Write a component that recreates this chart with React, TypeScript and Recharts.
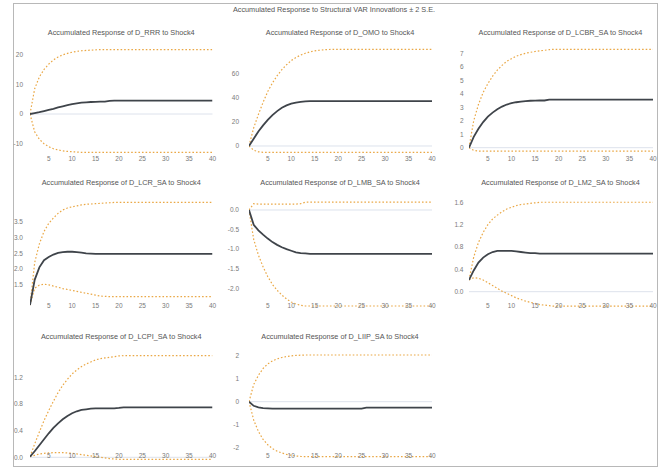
import React from 'react';
import { LineChart, Line, XAxis, YAxis, ReferenceLine } from 'recharts';

const PERIODS = [1,2,3,4,5,6,7,8,9,10,11,12,13,14,15,16,17,18,19,20,21,22,23,24,25,26,27,28,29,30,31,32,33,34,35,36,37,38,39,40];
const X_TICKS = [5, 10, 15, 20, 25, 30, 35, 40];
const MAIN_TITLE = 'Accumulated Response to Structural VAR Innovations \u00b1 2 S.E.';

// D_RRR
const RRR_RESP = [0,0.3,0.6,1.0,1.4,1.75,2.2,2.6,3.0,3.35, 3.6,3.8,3.95,4.05,4.1,4.15,4.2,4.45,4.5,4.5, 4.5,4.5,4.5,4.5,4.5,4.5,4.5,4.5,4.5,4.5, 4.5,4.5,4.5,4.5,4.5,4.5,4.5,4.5,4.5,4.5];
const RRR_UPPER = [0,8.5,12.5,15,16.8,18.2,19.2,19.9,20.4,20.8, 21.1,21.3,21.4,21.5,21.6,21.7,21.7,21.7,21.7,21.7, 21.7,21.7,21.7,21.7,21.7,21.7,21.7,21.7,21.7,21.7, 21.7,21.7,21.7,21.7,21.7,21.7,21.7,21.7,21.7,21.7];
const RRR_LOWER = [0,-6,-8.5,-10,-11,-11.7,-12.1,-12.4,-12.6,-12.7, -12.8,-12.9,-12.9,-12.9,-12.9,-12.9,-12.9,-12.9,-12.9,-12.9, -12.9,-12.9,-12.9,-12.9,-12.9,-12.9,-12.9,-12.9,-12.9,-12.9, -12.9,-12.9,-12.9,-12.9,-12.9,-12.9,-12.9,-12.9,-12.9,-12.9];
const RRR_TICKS = [-10, 0, 10, 20];

// D_OMO
const OMO_RESP = [0,6,12,17,21.5,25.5,28.8,31.5,33.5,34.9, 35.8,36.4,36.8,37.0,37.1,37.1,37.1,37.1,37.1,37.1, 37.1,37.1,37.1,37.1,37.1,37.1,37.1,37.1,37.1,37.1, 37.1,37.1,37.1,37.1,37.1,37.1,37.1,37.1,37.1,37.1];
const OMO_UPPER = [0,15,26,36,45,52,58,63,67,70.5, 73,75,76.5,77.7,78.5,79,79.4,79.6,79.8,79.8, 79.8,79.8,79.8,79.8,79.8,79.8,79.8,79.8,79.8,79.8, 79.8,79.8,79.8,79.8,79.8,79.8,79.8,79.8,79.8,79.8];
const OMO_LOWER = [0,-3.5,-4.8,-5.2,-5.3,-5.3,-5.3,-5.3,-5.3,-5.3, -5.3,-5.3,-5.3,-5.3,-5.3,-5.3,-5.3,-5.3,-5.3,-5.3, -5.3,-5.3,-5.3,-5.3,-5.3,-5.3,-5.3,-5.3,-5.3,-5.3, -5.3,-5.3,-5.3,-5.3,-5.3,-5.3,-5.3,-5.3,-5.3,-5.3];
const OMO_TICKS = [0, 20, 40, 60];

// D_LCBR_SA
const LCBR_RESP = [0,0.8,1.4,1.9,2.3,2.6,2.85,3.05,3.2,3.3, 3.37,3.42,3.46,3.48,3.49,3.5,3.5,3.56,3.57,3.57, 3.57,3.57,3.57,3.57,3.57,3.57,3.57,3.57,3.57,3.57, 3.57,3.57,3.57,3.57,3.57,3.57,3.57,3.57,3.57,3.57];
const LCBR_UPPER = [0,2.0,3.2,4.1,4.75,5.3,5.75,6.1,6.4,6.6, 6.78,6.9,7.0,7.07,7.13,7.18,7.22,7.27,7.29,7.29, 7.29,7.29,7.29,7.29,7.29,7.29,7.29,7.29,7.29,7.29, 7.29,7.29,7.29,7.29,7.29,7.29,7.29,7.29,7.29,7.29];
const LCBR_LOWER = [0,-0.2,-0.25,-0.26,-0.26,-0.26,-0.26,-0.26,-0.26,-0.26, -0.26,-0.26,-0.26,-0.26,-0.26,-0.26,-0.26,-0.26,-0.26,-0.26, -0.26,-0.26,-0.26,-0.26,-0.26,-0.26,-0.26,-0.26,-0.26,-0.26, -0.26,-0.26,-0.26,-0.26,-0.26,-0.26,-0.26,-0.26,-0.26,-0.26];
const LCBR_TICKS = [0, 1, 2, 3, 4, 5, 6, 7];

// D_LCR_SA
const LCR_RESP = [0.84,1.65,2.05,2.28,2.38,2.46,2.51,2.54,2.55,2.55, 2.54,2.52,2.5,2.49,2.48,2.48,2.48,2.48,2.48,2.48, 2.48,2.48,2.48,2.48,2.48,2.48,2.48,2.48,2.48,2.48, 2.48,2.48,2.48,2.48,2.48,2.48,2.48,2.48,2.48,2.48];
const LCR_UPPER = [0.84,2.2,2.8,3.2,3.46,3.63,3.78,3.89,3.95,3.99, 4.02,4.05,4.07,4.08,4.09,4.1,4.11,4.12,4.13,4.13, 4.13,4.13,4.13,4.13,4.13,4.13,4.13,4.13,4.13,4.13, 4.13,4.13,4.13,4.13,4.13,4.13,4.13,4.13,4.13,4.13];
const LCR_LOWER = [0.84,1.38,1.48,1.51,1.49,1.45,1.41,1.37,1.34,1.31, 1.28,1.25,1.22,1.19,1.16,1.13,1.12,1.11,1.11,1.11, 1.11,1.11,1.11,1.11,1.11,1.11,1.11,1.11,1.11,1.11, 1.11,1.11,1.11,1.11,1.11,1.11,1.11,1.11,1.11,1.11];
const LCR_TICKS = [1.5, 2.0, 2.5, 3.0, 3.5];

// D_LMB_SA
const LMB_RESP = [0,-0.38,-0.52,-0.63,-0.73,-0.82,-0.89,-0.95,-1.0,-1.04, -1.08,-1.1,-1.11,-1.12,-1.12,-1.12,-1.12,-1.12,-1.12,-1.12, -1.12,-1.12,-1.12,-1.12,-1.12,-1.12,-1.12,-1.12,-1.12,-1.12, -1.12,-1.12,-1.12,-1.12,-1.12,-1.12,-1.12,-1.12,-1.12,-1.12];
const LMB_UPPER = [0,0.16,0.15,0.15,0.15,0.15,0.15,0.15,0.15,0.15, 0.15,0.16,0.2,0.2,0.2,0.2,0.2,0.2,0.2,0.2, 0.2,0.2,0.2,0.2,0.2,0.2,0.2,0.2,0.2,0.2, 0.2,0.2,0.2,0.2,0.2,0.2,0.2,0.2,0.2,0.2];
const LMB_LOWER = [0,-0.75,-1.15,-1.45,-1.7,-1.9,-2.05,-2.17,-2.27,-2.35, -2.4,-2.43,-2.45,-2.45,-2.45,-2.45,-2.45,-2.45,-2.45,-2.45, -2.45,-2.45,-2.45,-2.45,-2.45,-2.45,-2.45,-2.45,-2.45,-2.45, -2.45,-2.45,-2.45,-2.45,-2.45,-2.45,-2.45,-2.45,-2.45,-2.45];
const LMB_TICKS = [-2.0, -1.5, -1.0, -0.5, 0.0];

// D_LM2_SA
const LM2_RESP = [0.21,0.38,0.52,0.61,0.67,0.71,0.73,0.73,0.73,0.73, 0.72,0.71,0.7,0.69,0.69,0.68,0.68,0.68,0.68,0.68, 0.68,0.68,0.68,0.68,0.68,0.68,0.68,0.68,0.68,0.68, 0.68,0.68,0.68,0.68,0.68,0.68,0.68,0.68,0.68,0.68];
const LM2_UPPER = [0.21,0.62,0.88,1.06,1.2,1.3,1.37,1.43,1.48,1.51, 1.54,1.56,1.57,1.58,1.59,1.6,1.6,1.6,1.6,1.6, 1.6,1.6,1.6,1.6,1.6,1.6,1.6,1.6,1.6,1.6, 1.6,1.6,1.6,1.6,1.6,1.6,1.6,1.6,1.6,1.6];
const LM2_LOWER = [0.21,0.25,0.24,0.21,0.16,0.11,0.06,0.01,-0.03,-0.07, -0.11,-0.14,-0.17,-0.19,-0.21,-0.23,-0.24,-0.25,-0.26,-0.26, -0.26,-0.26,-0.26,-0.26,-0.26,-0.26,-0.26,-0.26,-0.26,-0.26, -0.26,-0.26,-0.26,-0.26,-0.26,-0.26,-0.26,-0.26,-0.26,-0.26];
const LM2_TICKS = [0.0, 0.4, 0.8, 1.2, 1.6];

// D_LCPI_SA
const LCPI_RESP = [0.01,0.09,0.18,0.27,0.36,0.44,0.51,0.57,0.62,0.66, 0.69,0.71,0.72,0.73,0.735,0.735,0.735,0.735,0.735,0.74, 0.75,0.75,0.75,0.75,0.75,0.75,0.75,0.75,0.75,0.75, 0.75,0.75,0.75,0.75,0.75,0.75,0.75,0.75,0.75,0.75];
const LCPI_UPPER = [0.01,0.2,0.38,0.55,0.7,0.84,0.97,1.08,1.17,1.25, 1.31,1.36,1.4,1.43,1.46,1.48,1.49,1.5,1.51,1.52, 1.525,1.525,1.525,1.525,1.525,1.525,1.525,1.525,1.525,1.525, 1.525,1.525,1.525,1.525,1.525,1.525,1.525,1.525,1.525,1.525];
const LCPI_LOWER = [0.01,0.03,0.05,0.06,0.065,0.07,0.07,0.07,0.065,0.06, 0.05,0.04,0.03,0.02,0.01,0,-0.01,-0.02,-0.025,-0.03, -0.03,-0.03,-0.03,-0.03,-0.03,-0.03,-0.03,-0.03,-0.03,-0.03, -0.03,-0.03,-0.03,-0.03,-0.03,-0.03,-0.03,-0.03,-0.03,-0.03];
const LCPI_TICKS = [0.0, 0.4, 0.8, 1.2];

// D_LIIP_SA
const LIIP_RESP = [0,-0.18,-0.25,-0.28,-0.29,-0.3,-0.3,-0.3,-0.3,-0.3, -0.3,-0.3,-0.3,-0.3,-0.3,-0.3,-0.3,-0.3,-0.3,-0.3, -0.3,-0.3,-0.3,-0.3,-0.3,-0.26,-0.26,-0.26,-0.26,-0.26, -0.26,-0.26,-0.26,-0.26,-0.26,-0.26,-0.26,-0.26,-0.26,-0.26];
const LIIP_UPPER = [0,0.75,1.15,1.45,1.65,1.78,1.87,1.93,1.97,2.0, 2.02,2.03,2.04,2.04,2.04,2.04,2.04,2.04,2.04,2.04, 2.04,2.04,2.04,2.04,2.04,2.04,2.04,2.04,2.04,2.04, 2.04,2.04,2.04,2.04,2.04,2.04,2.04,2.04,2.04,2.04];
const LIIP_LOWER = [0,-0.8,-1.3,-1.65,-1.88,-2.05,-2.16,-2.24,-2.3,-2.34, -2.37,-2.39,-2.4,-2.4,-2.4,-2.4,-2.4,-2.4,-2.4,-2.4, -2.4,-2.4,-2.4,-2.4,-2.4,-2.4,-2.4,-2.4,-2.4,-2.4, -2.4,-2.4,-2.4,-2.4,-2.4,-2.4,-2.4,-2.4,-2.4,-2.4];
const LIIP_TICKS = [-2, -1, 0, 1, 2];

// ---- layout (positions / styles only) ----
const COLS = [
  { plotL: 30, plotR: 212.5, gap: 7 },
  { plotL: 248.5, plotR: 431.5, gap: 10 },
  { plotL: 468.5, plotR: 652.5, gap: 5.5 },
];
const ROWS = [
  { yT: 44, yB: 155, titleY: 33, xMargin: 1.7 },
  { yT: 194, yB: 307, titleY: 183, xMargin: -3.3 },
  { yT: 346, yB: 460, titleY: 337, xMargin: -6.3 },
];

const PANELS = [
  { title: 'Accumulated Response of D_RRR to Shock4', resp: RRR_RESP, upper: RRR_UPPER, lower: RRR_LOWER, ticks: RRR_TICKS, domain: [-13.8, 23.57], dec: 0, col: 0, row: 0 },
  { title: 'Accumulated Response of D_OMO to Shock4', resp: OMO_RESP, upper: OMO_UPPER, lower: OMO_LOWER, ticks: OMO_TICKS, domain: [-7.43, 84.16], dec: 0, col: 1, row: 0 },
  { title: 'Accumulated Response of D_LCBR_SA to Shock4', resp: LCBR_RESP, upper: LCBR_UPPER, lower: LCBR_LOWER, ticks: LCBR_TICKS, domain: [-0.541, 7.687], dec: 0, col: 2, row: 0 },
  { title: 'Accumulated Response of D_LCR_SA to Shock4', resp: LCR_RESP, upper: LCR_UPPER, lower: LCR_LOWER, ticks: LCR_TICKS, domain: [0.779, 4.40], dec: 1, col: 0, row: 1 },
  { title: 'Accumulated Response of D_LMB_SA to Shock4', resp: LMB_RESP, upper: LMB_UPPER, lower: LMB_LOWER, ticks: LMB_TICKS, domain: [-2.476, 0.408], dec: 1, col: 1, row: 1 },
  { title: 'Accumulated Response of D_LM2_SA to Shock4', resp: LM2_RESP, upper: LM2_UPPER, lower: LM2_LOWER, ticks: LM2_TICKS, domain: [-0.274, 1.748], dec: 1, col: 2, row: 1 },
  { title: 'Accumulated Response of D_LCPI_SA to Shock4', resp: LCPI_RESP, upper: LCPI_UPPER, lower: LCPI_LOWER, ticks: LCPI_TICKS, domain: [-0.0405, 1.669], dec: 1, col: 0, row: 2 },
  { title: 'Accumulated Response of D_LIIP_SA to Shock4', resp: LIIP_RESP, upper: LIIP_UPPER, lower: LIIP_LOWER, ticks: LIIP_TICKS, domain: [-2.546, 2.432], dec: 0, col: 1, row: 2 },
];

const FONT = '"Liberation Sans", Arial, sans-serif';
const AXIS_W = 40;
const X_AXIS_H = 1;
const M_TOP = 6;
const M_BOTTOM = 13;
const M_RIGHT = 6;

function Panel({ p }: { p: any }) {
  const c = COLS[p.col];
  const r = ROWS[p.row];
  const data = PERIODS.map((t, i) => ({ t, resp: p.resp[i], upper: p.upper[i], lower: p.lower[i] }));
  const width = AXIS_W + (c.plotR - c.plotL) + M_RIGHT;
  const height = (r.yB - r.yT) + M_TOP + M_BOTTOM + X_AXIS_H;
  return (
    <>
      <div
        style={{
          position: 'absolute', left: c.plotL - 20, width: c.plotR - c.plotL + 40, top: r.titleY - 5,
          height: 10, lineHeight: '10px', textAlign: 'center', fontSize: 7.3, color: '#555', fontFamily: FONT,
          whiteSpace: 'nowrap',
        }}
      >
        {p.title}
      </div>
      <div style={{ position: 'absolute', left: c.plotL - AXIS_W, top: r.yT - M_TOP }}>
        <LineChart width={width} height={height} data={data} margin={{ top: M_TOP, right: M_RIGHT, bottom: M_BOTTOM, left: 0 }}>
          <XAxis
            dataKey="t" type="number" domain={[1, 40]} ticks={X_TICKS} interval={0}
            axisLine={false} tickLine={false} tickSize={0} tickMargin={r.xMargin} height={X_AXIS_H}
            tick={{ fontSize: 6.5, fill: '#7a7a7a', fontFamily: FONT }} allowDataOverflow
          />
          <YAxis
            type="number" domain={p.domain} ticks={p.ticks} interval={0} width={AXIS_W}
            axisLine={false} tickLine={false} tickSize={0} tickMargin={c.gap} allowDataOverflow
            tick={{ fontSize: 6.5, fill: '#7a7a7a', fontFamily: FONT }}
            tickFormatter={(v: number) => v.toFixed(p.dec)}
          />
          <ReferenceLine y={0} stroke="#dde2ec" strokeWidth={1} />
          <Line dataKey="upper" type="linear" stroke="#eaa846" strokeWidth={1.2} strokeDasharray="1.6 2" dot={false} isAnimationActive={false} />
          <Line dataKey="lower" type="linear" stroke="#eaa846" strokeWidth={1.2} strokeDasharray="1.6 2" dot={false} isAnimationActive={false} />
          <Line dataKey="resp" type="linear" stroke="#3f444a" strokeWidth={1.8} dot={false} isAnimationActive={false} />
        </LineChart>
      </div>
    </>
  );
}

export default function App() {
  return (
    <div style={{ position: 'absolute', left: 0, top: 0, width: 661, height: 471, background: '#fff', overflow: 'hidden' }}>
      <div style={{ position: 'absolute', left: 13, top: 3, width: 645, height: 464, border: '1px solid #b8b8b8', boxSizing: 'border-box' }} />
      <div
        style={{
          position: 'absolute', left: 0, width: 668, top: 5, height: 10, lineHeight: '10px', textAlign: 'center',
          fontSize: 7.3, color: '#555', fontFamily: FONT, whiteSpace: 'nowrap',
        }}
      >
        {MAIN_TITLE}
      </div>
      {PANELS.map((p, i) => (
        <Panel key={i} p={p} />
      ))}
    </div>
  );
}
